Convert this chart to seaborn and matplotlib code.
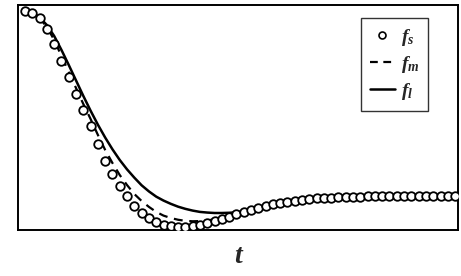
import numpy as np
import pandas as pd
import matplotlib
matplotlib.use("Agg")
import matplotlib.pyplot as plt
import seaborn as sns
from matplotlib.lines import Line2D

sns.set_theme(style="white")
plt.rcParams["mathtext.fontset"] = "custom"
plt.rcParams["mathtext.it"] = "Liberation Serif:italic:bold"
plt.rcParams["mathtext.rm"] = "Liberation Serif:bold"

# ---- data ----
t = list(range(60))
f_s = [1.005, 0.995, 0.972, 0.922, 0.853, 0.775, 0.702, 0.624, 0.550, 0.477,
       0.394, 0.317, 0.257, 0.202, 0.156, 0.110, 0.078, 0.055, 0.037, 0.025,
       0.018, 0.014, 0.014, 0.018, 0.025, 0.032, 0.041, 0.050, 0.060, 0.073,
       0.083, 0.094, 0.101, 0.110, 0.119, 0.124, 0.128, 0.133, 0.138, 0.142,
       0.147, 0.149, 0.149, 0.151, 0.151, 0.153, 0.153, 0.154, 0.154, 0.154,
       0.154, 0.154, 0.154, 0.154, 0.154, 0.154, 0.154, 0.154, 0.154, 0.154]
f_m = [1.005, 0.995, 0.972, 0.931, 0.872, 0.798, 0.725, 0.651, 0.578, 0.509,
       0.436, 0.367, 0.307, 0.252, 0.206, 0.165, 0.133, 0.106, 0.083, 0.066,
       0.055, 0.047, 0.042, 0.040, 0.041, 0.044, 0.049, 0.055, 0.062, 0.071,
       0.081, 0.092, 0.101, 0.110, 0.119, 0.124, 0.128, 0.133, 0.138, 0.142,
       0.147, 0.149, 0.149, 0.151, 0.151, 0.153, 0.153, 0.154, 0.154, 0.154,
       0.154, 0.154, 0.154, 0.154, 0.154, 0.154, 0.154, 0.154, 0.154, 0.154]
f_l = [1.005, 0.997, 0.975, 0.940, 0.890, 0.826, 0.757, 0.686, 0.615, 0.547,
       0.483, 0.424, 0.370, 0.321, 0.278, 0.240, 0.205, 0.177, 0.153, 0.135,
       0.120, 0.107, 0.097, 0.089, 0.083, 0.080, 0.078, 0.078, 0.079, 0.081,
       0.085, 0.090, 0.098, 0.107, 0.116, 0.122, 0.127, 0.132, 0.137, 0.141,
       0.145, 0.148, 0.148, 0.150, 0.150, 0.152, 0.152, 0.153, 0.153, 0.153,
       0.153, 0.153, 0.153, 0.153, 0.153, 0.153, 0.153, 0.153, 0.153, 0.153]
labels = [r"$f_s$", r"$f_m$", r"$f_l$"]
x_label = "t"

df = pd.DataFrame({"t": t, "f_s": f_s, "f_m": f_m, "f_l": f_l})

fig = plt.figure(figsize=(4.61, 2.76), dpi=100)
ax = fig.add_axes([18 / 461, 1 - 230 / 276, 440 / 461, 225 / 276])

sns.lineplot(data=df, x="t", y="f_l", ax=ax, color="black", lw=1.8)
sns.lineplot(data=df, x="t", y="f_m", ax=ax, color="black", lw=1.6)
ax.lines[-1].set_dashes([4, 3])
sns.scatterplot(data=df, x="t", y="f_s", ax=ax, marker="o", s=38,
                facecolor="white", edgecolor="black", linewidth=1.3, zorder=3)

ax.set_xlim(-0.96, 59.4)
ax.set_ylim(0, 1.032)
ax.set_xticks([])
ax.set_yticks([])
ax.set_ylabel("")
ax.set_xlabel(x_label, fontsize=20, fontstyle="italic", fontweight="bold",
              family="Liberation Serif", labelpad=10)
for sp in ax.spines.values():
    sp.set_color("black")
    sp.set_linewidth(1.4)

handles = [
    Line2D([], [], ls="none", marker="o", ms=5, mfc="white", mec="black", mew=1.2),
    Line2D([], [], color="black", lw=1.6, dashes=[3.5, 2.5]),
    Line2D([], [], color="black", lw=1.8),
]
leg = ax.legend(handles, labels, loc="upper right", bbox_to_anchor=(0.932, 0.942),
                borderaxespad=0, frameon=True, fancybox=False, fontsize=14,
                handlelength=1.3, handletextpad=0.3, labelspacing=0.32,
                borderpad=0.45)
leg.get_frame().set_edgecolor("black")
leg.get_frame().set_linewidth(1.0)

fig.savefig("out.png", dpi=100)
